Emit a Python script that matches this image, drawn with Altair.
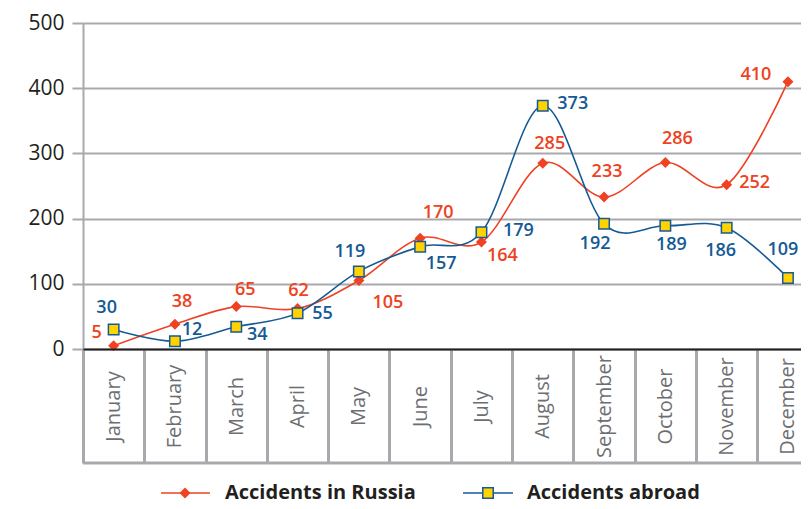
import altair as alt
import pandas as pd

months = ["January", "February", "March", "April", "May", "June", "July",
          "August", "September", "October", "November", "December"]
russia = [5, 38, 65, 62, 105, 170, 164, 285, 233, 286, 252, 410]
abroad = [30, 12, 34, 55, 119, 157, 179, 373, 192, 189, 186, 109]
series_names = ["Accidents in Russia", "Accidents abroad"]
y_ticks = [0, 100, 200, 300, 400, 500]

# label offsets (pixels) for each value label
russia_dx = [-17, 7, 9, 1, 29, 18, 21, 7, 3, 12, 28, -32]
russia_dy = [-13, -22, -17, -18, 22, -25, 14, -19, -25, -24, -2, -7]
abroad_dx = [-7, 17, 21, 25, -9, 21, 37, 30, -9, 6, -6, -5]
abroad_dy = [-21, -11, 8, 1, -19, 17, -1, -2, 20, 19, 23, -28]

rows = []
for i, m in enumerate(months):
    rows.append({"month": m, "series": series_names[0], "value": russia[i]})
    rows.append({"month": m, "series": series_names[1], "value": abroad[i]})
df = pd.DataFrame(rows)

RED = "#EE4223"
BLUE = "#165A95"
YELLOW = "#FFD200"
GRAY = "#A7A9AC"
DARK = "#231F20"
FONT = "Open Sans"

W, H, TABLE, STEP = 718, 326, 114, 61.3

x_enc = alt.X(
    "month:N", sort=months,
    scale=alt.Scale(domain=months, range=[0, STEP * 12], paddingInner=0, paddingOuter=0),
    axis=alt.Axis(title=None, labelAngle=-90, labelAlign="center", labelBaseline="middle",
                  labelPadding=-TABLE / 2, tickBand="extent", tickSize=TABLE,
                  tickColor=GRAY, tickWidth=3, domainColor=DARK, domainWidth=2,
                  labelColor="#6D6E71", labelFontSize=20, labelFont=FONT, grid=False,
                  zindex=1, labelOverlap=False),
)
y_enc = alt.Y(
    "value:Q",
    scale=alt.Scale(domain=[0, 500], nice=False),
    axis=alt.Axis(title=None, values=y_ticks, tickSize=11, tickColor=GRAY, tickWidth=2,
                  domainColor=GRAY, domainWidth=2, gridColor=GRAY, gridWidth=2,
                  labelFontSize=21, labelColor=DARK, labelPadding=8, labelFont=FONT),
)

base = alt.Chart(df)

layers = []
# table bottom line
layers.append(
    alt.Chart(pd.DataFrame({"v": [0]})).mark_rule(color=GRAY, strokeWidth=3).encode(
        x=alt.value(0), x2=alt.value(W), y=alt.value(H + TABLE))
)

for name, color in [(series_names[0], RED), (series_names[1], BLUE)]:
    layers.append(
        base.transform_filter(alt.datum.series == name)
        .mark_line(color=color, strokeWidth=1.6, interpolate="cardinal")
        .encode(x=x_enc, y=y_enc)
    )

layers.append(
    base.transform_filter(alt.datum.series == series_names[0])
    .mark_point(shape="diamond", filled=True, size=121, color=RED, opacity=1)
    .encode(x=x_enc, y=y_enc)
)
layers.append(
    base.transform_filter(alt.datum.series == series_names[1])
    .mark_point(shape="square", filled=True, size=110, fill=YELLOW, stroke=BLUE,
                strokeWidth=1.5, opacity=1)
    .encode(x=x_enc, y=y_enc)
)

for name, color, dxs, dys in [(series_names[0], RED, russia_dx, russia_dy),
                              (series_names[1], BLUE, abroad_dx, abroad_dy)]:
    for i, m in enumerate(months):
        layers.append(
            base.transform_filter((alt.datum.series == name) & (alt.datum.month == m))
            .mark_text(dx=dxs[i], dy=dys[i], color=color, fontSize=18, fontWeight=600,
                       font=FONT, align="center", baseline="middle")
            .encode(x=x_enc, y=y_enc, text="value:Q")
        )

# legend
LY = 470
leg = [
    (series_names[0], RED, 78, 127, 102, 142, "diamond"),
    (series_names[1], BLUE, 380, 430, 405, 444, "square"),
]
for name, color, x1, x2, xm, xt, shape in leg:
    ld = alt.Chart(pd.DataFrame({"name": [name]}))
    layers.append(ld.mark_rule(color=color, strokeWidth=1.6).encode(
        x=alt.value(x1), x2=alt.value(x2), y=alt.value(LY)))
    if shape == "diamond":
        layers.append(ld.mark_point(shape="diamond", filled=True, size=121, color=RED,
                                    opacity=1).encode(x=alt.value(xm), y=alt.value(LY)))
    else:
        layers.append(ld.mark_point(shape="square", filled=True, size=110, fill=YELLOW,
                                    stroke=BLUE, strokeWidth=1.5, opacity=1)
                      .encode(x=alt.value(xm), y=alt.value(LY)))
    layers.append(ld.mark_text(align="left", baseline="middle", fontSize=20,
                               fontWeight="bold", font=FONT, color=DARK)
                  .encode(x=alt.value(xt), y=alt.value(LY), text="name:N"))

chart = alt.layer(*layers).properties(
    width=W, height=H,
    autosize=alt.AutoSizeParams(type="none"),
    padding={"left": 75, "top": 15, "right": 0, "bottom": 160},
).configure_view(stroke=None)

chart.save("out.html", embed_options={"renderer": "svg", "actions": False})
